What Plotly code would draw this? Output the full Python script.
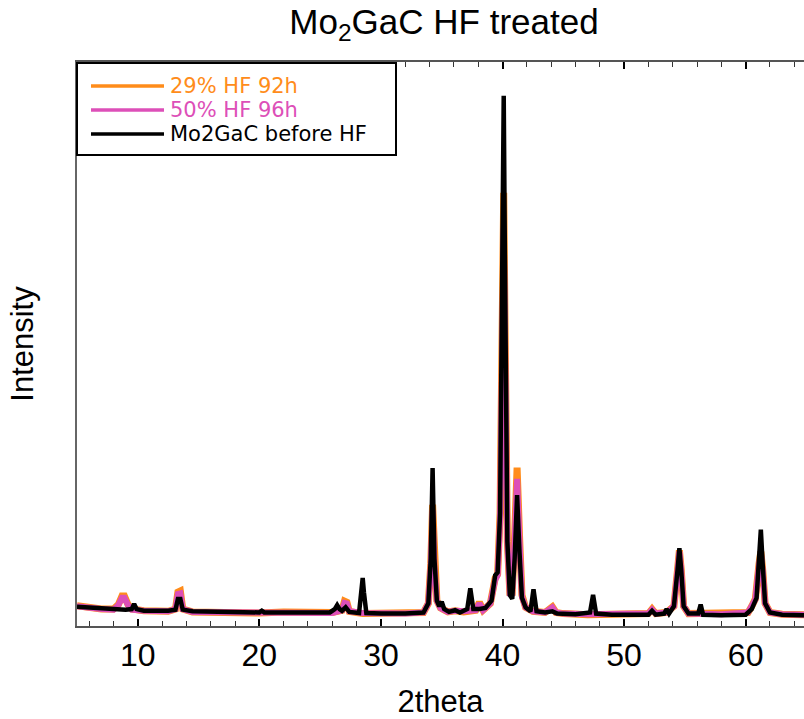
import plotly.graph_objects as go

# ---- data (2theta in degrees, intensity in arbitrary units) ----
black_x = [5.0, 5.8, 6.5, 7.2, 8.0, 9.0, 9.5, 9.7, 9.9, 10.5, 11.5, 12.5, 13.1, 13.3, 13.5, 13.7,
           14.5, 16, 18, 20, 20.2, 20.4, 22, 24, 25.8, 26.2, 26.4, 26.6, 26.8, 27.1, 27.4, 28.2,
           28.4, 28.5, 28.6, 28.8, 30, 32, 33.5, 33.9, 34.1, 34.25, 34.4, 34.6, 34.8, 35.0, 35.2,
           35.6, 36.1, 36.5, 37.1, 37.35, 37.6, 38.1, 38.6, 39.1, 39.4, 39.6, 39.8, 40.0, 40.1,
           40.2, 40.4, 40.6, 40.8, 41.0, 41.2, 41.4, 41.6, 41.9, 42.3, 42.55, 42.8, 43.5, 44.1,
           44.5, 46, 47.2, 47.45, 47.7, 49, 51, 52.0, 52.3, 52.6, 53.3, 53.5, 53.7, 54.1, 54.4,
           54.55, 54.7, 54.9, 55.3, 56.1, 56.3, 56.5, 58, 60.0, 60.5, 60.9, 61.1, 61.25, 61.4,
           61.6, 62, 63, 64.8]
black_y = [34, 33, 32, 30, 29, 29, 30, 39, 30, 27, 27, 27, 29, 48, 48, 29,
           26, 25, 25, 24, 27, 24, 24, 23, 24, 30, 37, 30, 27, 33, 25, 23,
           60, 85, 60, 23, 22, 22, 24, 40, 120, 280, 120, 45, 35, 43, 30,
           25, 28, 24, 30, 67, 30, 30, 32, 45, 90, 95, 200, 700, 940,
           650, 150, 55, 48, 120, 232, 130, 50, 33, 26, 65, 26, 24, 26,
           22, 21, 24, 55, 22, 20, 20, 20, 27, 20, 22, 30, 22, 35, 100,
           138, 100, 35, 22, 22, 38, 20, 19, 20, 30, 50, 120, 171, 110,
           40, 24, 20, 19]

orange_x = [5.0, 6.0, 7.0, 8.0, 8.4, 8.7, 8.9, 9.2, 9.5, 10.5, 12.5, 13.1, 13.3, 13.5, 13.7, 14.5,
            16, 18, 20, 22, 24, 26, 26.8, 27.0, 27.2, 27.4, 28.5, 30, 32, 33.5, 33.9, 34.1, 34.25,
            34.4, 34.6, 34.9, 35.5, 36.1, 36.8, 37.8, 38.1, 38.4, 39.0, 39.4, 39.6, 39.8, 40.0,
            40.1, 40.2, 40.4, 40.6, 40.8, 41.0, 41.2, 41.4, 41.6, 41.9, 42.5, 43.5, 44.1, 44.4,
            45, 47, 49, 51, 52.0, 52.3, 52.6, 53.5, 54.1, 54.4, 54.55, 54.7, 54.9, 55.3, 56.3, 58,
            60.2, 60.5, 60.8, 61.1, 61.25, 61.4, 61.6, 62, 63, 64.8]
orange_y = [36, 32, 30, 30, 38, 53, 53, 38, 30, 27, 26, 30, 60, 62, 30, 25,
            24, 25, 23, 25, 24, 24, 28, 44, 42, 26, 22, 22, 21, 24, 40, 110, 215,
            110, 45, 32, 25, 27, 25, 28, 42, 28, 40, 85, 92, 200, 600,
            768, 550, 150, 60, 60, 160, 281, 160, 55, 33, 26, 24, 34, 24,
            22, 20, 21, 21, 22, 30, 22, 24, 35, 100, 134, 100, 35, 22, 22, 21,
            24, 35, 48, 110, 132, 100, 40, 24, 21, 20]

pink_x = orange_x
pink_y = [35, 32, 30, 29, 37, 50, 50, 37, 29, 27, 26, 30, 57, 58, 30, 25,
          25, 24, 24, 24, 25, 23, 28, 41, 40, 26, 23, 22, 22, 24, 40, 105, 205,
          105, 45, 32, 25, 27, 26, 28, 40, 28, 40, 82, 90, 190, 560,
          706, 520, 150, 58, 58, 150, 261, 150, 52, 33, 26, 24, 33, 24,
          22, 21, 21, 21, 22, 29, 22, 24, 35, 98, 132, 98, 35, 22, 22, 21,
          24, 34, 47, 108, 130, 98, 40, 24, 21, 20]

series_names = ['29% HF 92h', '50% HF 96h', 'Mo2GaC before HF']
series_colors = ['#ff8c1a', '#dd4fb8', '#000000']
x_ticks = [10, 20, 30, 40, 50, 60]

W, H = 804, 719
ML, MR, MT, MB = 77, 0, 62, 93
PW, PH = W - ML - MR, H - MT - MB


def fx(px):
    return (px - ML) / PW


def fy(py):
    return (H - MB - py) / PH


fig = go.Figure()
widths = [7, 6, 4.5]
for xs, ys, name, col, w in zip([orange_x, pink_x, black_x], [orange_y, pink_y, black_y],
                                series_names, series_colors, widths):
    fig.add_trace(go.Scatter(x=xs, y=ys, mode='lines', name=name, showlegend=False,
                             line=dict(color=col, width=w)))

# legend drawn as a boxed key
shapes = [dict(type='rect', xref='paper', yref='paper', x0=fx(77), x1=fx(396),
               y0=fy(155), y1=fy(63), line=dict(color='black', width=2), fillcolor='white',
               layer='above')]
annotations = []
row_y = [86, 110, 134]
for i, (name, col) in enumerate(zip(series_names, series_colors)):
    shapes.append(dict(type='line', xref='paper', yref='paper', x0=fx(91), x1=fx(164),
                       y0=fy(row_y[i]), y1=fy(row_y[i]), line=dict(color=col, width=3.5),
                       layer='above'))
    annotations.append(dict(xref='paper', yref='paper', x=fx(168), y=fy(row_y[i]),
                            xanchor='left', yanchor='middle', showarrow=False, text=name,
                            font=dict(family='DejaVu Sans', size=21, color=col)))

fig.update_layout(
    width=W, height=H,
    margin=dict(l=ML, r=MR, t=MT, b=MB),
    paper_bgcolor='white', plot_bgcolor='white',
    font=dict(family='Liberation Sans, Arial, sans-serif', color='black'),
    title=dict(text='Mo<sub>2</sub>GaC HF treated', x=fx(444), xref='paper', xanchor='center',
               y=1, yref='container', yanchor='top', pad=dict(t=9), font=dict(size=35)),
    showlegend=False,
    shapes=shapes,
    annotations=annotations,
    xaxis=dict(range=[5, 64.8], tickvals=x_ticks, ticks='inside', ticklen=7, tickwidth=1.5,
               tickcolor='black', showline=True, linecolor='#555', linewidth=2,
               mirror='ticks', showgrid=False, zeroline=False,
               tickfont=dict(size=32),
               minor=dict(dtick=2, ticks='inside', ticklen=5, tickcolor='#333', tickwidth=1),
               title=dict(text='2theta', font=dict(size=31), standoff=21)),
    yaxis=dict(range=[0, 1000], showticklabels=False, ticks='', showline=True,
               linecolor='#666', linewidth=1.5, showgrid=False, zeroline=False,
               title=dict(text='Intensity', font=dict(size=31), standoff=32)),
)

fig.write_html('out.html')
